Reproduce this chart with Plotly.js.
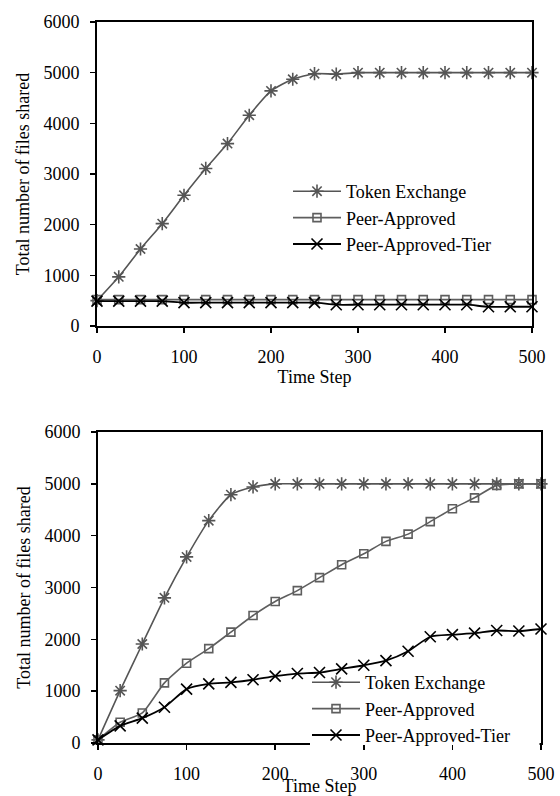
<!DOCTYPE html>
<html>
<head>
<meta charset="utf-8">
<script src="https://cdn.plot.ly/plotly-3.0.1.min.js"></script>
<style>html,body{margin:0;padding:0;background:#fff;}#chart{width:560px;height:796px;}</style>
</head>
<body>
<div id="chart"></div>
<script>
// Time steps (x values, both charts)
const timeSteps = [0, 25, 50, 75, 100, 125, 150, 175, 200, 225, 250, 275, 300, 325, 350, 375, 400, 425, 450, 475, 500];

// Top chart series
const topTokenExchange = [500, 970, 1520, 2020, 2580, 3110, 3600, 4160, 4640, 4870, 4980, 4970, 5000, 5000, 5000, 5000, 5000, 5000, 5000, 5000, 5000];
const topPeerApproved = [520, 520, 520, 520, 520, 520, 520, 520, 520, 520, 520, 520, 520, 520, 520, 520, 520, 520, 520, 520, 520];
const topPeerApprovedTier = [490, 490, 490, 490, 460, 460, 460, 460, 460, 460, 460, 420, 420, 420, 420, 420, 420, 420, 380, 380, 380];

// Bottom chart series
const botTokenExchange = [60, 1010, 1910, 2800, 3590, 4290, 4790, 4940, 5000, 5000, 5000, 5000, 5000, 5000, 5000, 5000, 5000, 5000, 5000, 5000, 5000];
const botPeerApproved = [60, 400, 580, 1160, 1540, 1820, 2140, 2460, 2730, 2940, 3190, 3440, 3650, 3890, 4030, 4270, 4520, 4730, 4970, 5000, 5000];
const botPeerApprovedTier = [60, 330, 480, 690, 1040, 1140, 1170, 1220, 1290, 1340, 1360, 1430, 1500, 1590, 1770, 2050, 2090, 2120, 2170, 2160, 2200];

const seriesNames = ['Token Exchange', 'Peer-Approved', 'Peer-Approved-Tier'];
const xTickVals = [0, 100, 200, 300, 400, 500];
const yTickVals = [0, 1000, 2000, 3000, 4000, 5000, 6000];
const xTitle = 'Time Step';
const yTitle = 'Total number of files shared';

const GRAY = '#555555';
const PGRAY = '#5e5e5e';
const BLACK = '#000000';
const FONT = 'Liberation Serif';
const smooth = {shape: 'spline', smoothing: 0.6};

function makeTraces(tok, pa, tier, xa, ya, leg) {
  return [
    {x: timeSteps, y: tok, xaxis: xa, yaxis: ya, legend: leg, name: seriesNames[0], mode: 'lines+markers', cliponaxis: false,
     line: Object.assign({color: GRAY, width: 1.6}, smooth),
     marker: {symbol: 'asterisk-open', size: 11, color: GRAY, line: {color: GRAY, width: 1.6}}},
    {x: timeSteps, y: pa, xaxis: xa, yaxis: ya, legend: leg, name: seriesNames[1], mode: 'lines+markers', cliponaxis: false,
     line: Object.assign({color: PGRAY, width: 1.6}, smooth),
     marker: {symbol: 'square-open', size: 8, color: PGRAY, line: {color: PGRAY, width: 1.6}}},
    {x: timeSteps, y: tier, xaxis: xa, yaxis: ya, legend: leg, name: seriesNames[2], mode: 'lines+markers', cliponaxis: false,
     line: Object.assign({color: BLACK, width: 1.8}, smooth),
     marker: {symbol: 'x-thin-open', size: 11, color: BLACK, line: {color: BLACK, width: 1.6}}}
  ];
}

const data = [].concat(
  makeTraces(topTokenExchange, topPeerApproved, topPeerApprovedTier, 'x', 'y', 'legend'),
  makeTraces(botTokenExchange, botPeerApproved, botPeerApprovedTier, 'x2', 'y2', 'legend2')
);

function xAxis(domain, anchor) {
  return {
    domain: domain, anchor: anchor, range: [0, 500], tickvals: xTickVals,
    showline: true, mirror: true, linecolor: BLACK, linewidth: 2,
    ticks: 'outside', ticklen: 5, tickwidth: 1.5, tickcolor: BLACK,
    showgrid: false, zeroline: false, ticklabelstandoff: 8,
    tickfont: {family: FONT, size: 18, color: BLACK},
    title: {text: xTitle, font: {family: FONT, size: 18, color: BLACK}, standoff: 2}
  };
}
function yAxis(domain, anchor) {
  return {
    domain: domain, anchor: anchor, range: [0, 6000], tickvals: yTickVals,
    showline: true, mirror: true, linecolor: BLACK, linewidth: 2,
    ticks: 'outside', ticklen: 5, tickwidth: 1.5, tickcolor: BLACK,
    showgrid: false, zeroline: false, ticklabelstandoff: 7,
    tickfont: {family: FONT, size: 18, color: BLACK},
    title: {text: yTitle, font: {family: FONT, size: 18, color: BLACK}, standoff: 9}
  };
}

const layout = {
  width: 560, height: 796,
  margin: {l: 0, r: 0, t: 0, b: 0},
  paper_bgcolor: '#ffffff', plot_bgcolor: '#ffffff',
  font: {family: FONT, color: BLACK},
  xaxis: xAxis([97/560, 532/560], 'y'),
  yaxis: yAxis([1 - 326/796, 1 - 22/796], 'x'),
  xaxis2: xAxis([98/560, 541/560], 'y2'),
  yaxis2: yAxis([1 - 743/796, 1 - 432/796], 'x2'),
  legend: {x: 288/560, xanchor: 'left', y: 1 - 173/796, yanchor: 'top', bgcolor: 'rgba(0,0,0,0)',
           font: {family: FONT, size: 18, color: BLACK}, itemwidth: 48, tracegroupgap: 0},
  legend2: {x: 307/560, xanchor: 'left', y: 1 - 664/796, yanchor: 'top', bgcolor: 'rgba(0,0,0,0)',
           font: {family: FONT, size: 18, color: BLACK}, itemwidth: 48, tracegroupgap: 0},
  // white patch: the bottom chart's legend box hides this stretch of the x axis line in the reference
  shapes: [{type: 'rect', xref: 'paper', yref: 'paper', layer: 'above',
            x0: 310/560, x1: 539.5/560, y0: 1 - 745/796, y1: 1 - 741/796,
            fillcolor: '#ffffff', line: {width: 0}}],
  showlegend: true
};

Plotly.newPlot('chart', data, layout, {displayModeBar: false, staticPlot: true});
</script>
</body>
</html>
